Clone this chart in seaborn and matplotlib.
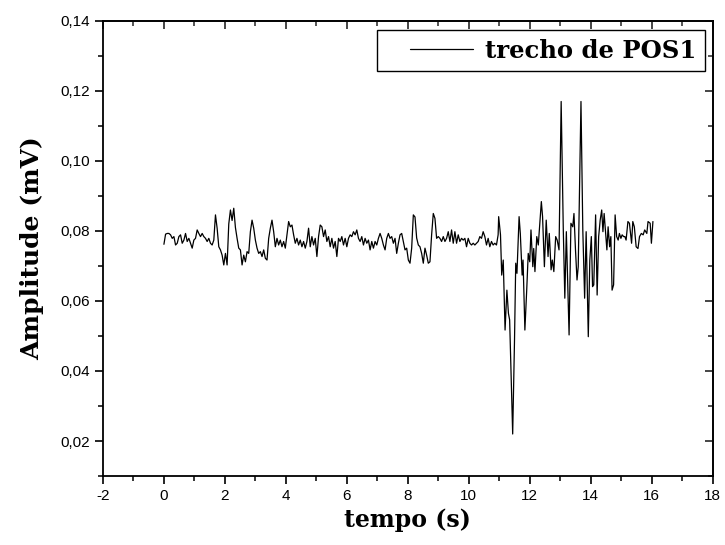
import numpy as np
import pandas as pd
import matplotlib
matplotlib.use("Agg")
import matplotlib.pyplot as plt
from matplotlib.ticker import MultipleLocator, FuncFormatter
from matplotlib.legend_handler import HandlerLine2D
import seaborn as sns

# ---- data ----
sample_interval = 0.05454  # s, quiet part sampled uniformly from t = 0

quiet_amp = [
    0.0762, 0.0791, 0.0793, 0.0793, 0.0789, 0.0779, 0.0784, 0.0760, 0.0765, 0.0784,
    0.0789, 0.0765, 0.0774, 0.0793, 0.0770, 0.0779, 0.0765, 0.0751, 0.0774, 0.0779,
    0.0803, 0.0793, 0.0784, 0.0793, 0.0784, 0.0779, 0.0770, 0.0779, 0.0765, 0.0760,
    0.0774, 0.0846, 0.0808, 0.0755, 0.0746, 0.0731, 0.0703, 0.0736, 0.0703, 0.0820,
    0.0860, 0.0830, 0.0865, 0.0810, 0.0779, 0.0751, 0.0746, 0.0703, 0.0731, 0.0712,
    0.0741, 0.0736, 0.0798,
    0.0831, 0.0808, 0.0774, 0.0751, 0.0736, 0.0741, 0.0727, 0.0746, 0.0722, 0.0717,
    0.0779, 0.0808, 0.0831, 0.0798, 0.0755, 0.0779, 0.0760, 0.0774, 0.0755, 0.0770,
    0.0751, 0.0789, 0.0827, 0.0812, 0.0817, 0.0789, 0.0765, 0.0779, 0.0760, 0.0774,
    0.0755, 0.0770, 0.0751, 0.0770, 0.0808, 0.0755, 0.0784, 0.0760, 0.0779, 0.0727,
    0.0784, 0.0817, 0.0812, 0.0784, 0.0803, 0.0770, 0.0784, 0.0755, 0.0779, 0.0751,
    0.0770, 0.0727, 0.0779, 0.0770, 0.0784, 0.0760, 0.0779,
    0.0755, 0.0779, 0.0789, 0.0784, 0.0798, 0.0789, 0.0803, 0.0779, 0.0770, 0.0784,
    0.0760, 0.0779, 0.0765, 0.0774, 0.0746, 0.0770, 0.0751, 0.0770, 0.0760, 0.0779,
    0.0793, 0.0779, 0.0760, 0.0746, 0.0779, 0.0793, 0.0779, 0.0784, 0.0765, 0.0779,
    0.0736, 0.0765, 0.0789, 0.0793, 0.0770, 0.0746, 0.0751, 0.0717, 0.0708, 0.0751,
    0.0846, 0.0840, 0.0780, 0.0760, 0.0755, 0.0736, 0.0708, 0.0751, 0.0731, 0.0708,
    0.0712, 0.0789, 0.0850, 0.0836, 0.0779, 0.0784, 0.0779,
    0.0770, 0.0784, 0.0770, 0.0779, 0.0798, 0.0770, 0.0803, 0.0765, 0.0798, 0.0765,
    0.0789, 0.0770, 0.0779, 0.0774, 0.0779, 0.0755, 0.0779, 0.0765, 0.0760, 0.0765,
    0.0760, 0.0765, 0.0770, 0.0784, 0.0779, 0.0798, 0.0784, 0.0760, 0.0779, 0.0755,
    0.0770, 0.0760, 0.0765, 0.0760, 0.0789,
]

burst_time = [
    10.98, 11.04, 11.08, 11.13, 11.19, 11.25, 11.30, 11.34, 11.44, 11.50,
    11.54, 11.58, 11.65, 11.69, 11.75, 11.78, 11.84, 11.90, 11.95, 12.00,
    12.04, 12.10, 12.13, 12.17, 12.23, 12.28, 12.33, 12.38, 12.42, 12.48,
    12.54, 12.60, 12.64, 12.70, 12.74, 12.79, 12.85, 12.90, 12.96, 13.03,
    13.10, 13.15, 13.20, 13.29, 13.35, 13.41, 13.45, 13.50, 13.55, 13.59,
    13.68, 13.74, 13.80, 13.85, 13.92, 13.97, 14.02, 14.06, 14.10, 14.16,
    14.21, 14.26, 14.31, 14.36, 14.40, 14.44, 14.48, 14.53, 14.57, 14.62,
    14.66, 14.70, 14.75, 14.80, 14.85, 14.90, 14.94, 14.99, 15.03, 15.08,
    15.12, 15.16, 15.22, 15.27, 15.34, 15.38, 15.43, 15.49, 15.55, 15.60,
    15.66, 15.72, 15.77, 15.84, 15.88, 15.95, 15.99, 16.04,
]
burst_amp = [
    0.0841, 0.0789, 0.0674, 0.0717, 0.0517, 0.0631, 0.0565, 0.0546, 0.0220, 0.0489,
    0.0708, 0.0679, 0.0841, 0.0793, 0.0674, 0.0717, 0.0517, 0.0631, 0.0736, 0.0712,
    0.0803, 0.0698, 0.0750, 0.0684, 0.0784, 0.0760, 0.0822, 0.0884, 0.0841, 0.0698,
    0.0831, 0.0727, 0.0793, 0.0689, 0.0717, 0.0684, 0.0784, 0.0774, 0.0746, 0.1170,
    0.0803, 0.0608, 0.0798, 0.0503, 0.0822, 0.0812, 0.0850, 0.0746, 0.0660, 0.0698,
    0.1170, 0.0803, 0.0608, 0.0798, 0.0498, 0.0717, 0.0784, 0.0641, 0.0646, 0.0846,
    0.0617, 0.0784, 0.0831, 0.0860, 0.0798, 0.0850, 0.0803, 0.0746, 0.0812, 0.0755,
    0.0784, 0.0631, 0.0646, 0.0846, 0.0784, 0.0774, 0.0793, 0.0779, 0.0789, 0.0784,
    0.0784, 0.0774, 0.0827, 0.0822, 0.0765, 0.0827, 0.0812, 0.0755, 0.0750, 0.0784,
    0.0793, 0.0789, 0.0803, 0.0793, 0.0827, 0.0822, 0.0765, 0.0827,
]

series_label = "trecho de POS1"
x_label = "tempo (s)"
y_label = "Amplitude (mV)"
x_ticks = [-2, 0, 2, 4, 6, 8, 10, 12, 14, 16, 18]
y_ticks = [0.02, 0.04, 0.06, 0.08, 0.10, 0.12, 0.14]

quiet_time = np.arange(len(quiet_amp)) * sample_interval
df = pd.DataFrame({
    "t": np.concatenate([quiet_time, burst_time]),
    "amp": np.concatenate([quiet_amp, burst_amp]),
})

# ---- figure ----
sns.set_theme(style="ticks")
plt.rcParams["font.family"] = ["Liberation Sans", "DejaVu Sans"]
plt.rcParams["text.color"] = "black"

fig = plt.figure(figsize=(7.25, 5.45), dpi=100)
ax = fig.add_axes([0.142, 0.1266, 0.983 - 0.142, 0.9615 - 0.1266])

sns.lineplot(data=df, x="t", y="amp", ax=ax, color="black", linewidth=0.9,
             estimator=None, sort=False, label=series_label)

ax.set_xlim(-2, 18)
ax.set_ylim(0.01, 0.14)
ax.set_xticks(x_ticks)
ax.set_yticks(y_ticks)
ax.xaxis.set_minor_locator(MultipleLocator(1))
ax.yaxis.set_minor_locator(MultipleLocator(0.01))
ax.xaxis.set_major_formatter(FuncFormatter(lambda v, p: f"{v:g}"))
ax.yaxis.set_major_formatter(FuncFormatter(lambda v, p: f"{v:.2f}".replace(".", ",")))

for s in ax.spines.values():
    s.set_visible(True)
    s.set_linewidth(1.3)
    s.set_color("black")

ax.tick_params(axis="both", which="major", direction="out", length=6, width=1.2,
               labelsize=11, colors="black", pad=3)
ax.tick_params(axis="both", which="minor", direction="out", length=3.5, width=1.1,
               colors="black")
# mirrored inward ticks on top and right
axt = ax.secondary_xaxis("top")
axt.set_xticks(x_ticks)
axt.xaxis.set_minor_locator(MultipleLocator(1))
axt.tick_params(which="major", direction="in", length=6, width=1.2, labeltop=False)
axt.tick_params(which="minor", direction="in", length=3.5, width=1.1)
axt.set_xticklabels([])
axr = ax.secondary_yaxis("right")
axr.set_yticks(y_ticks)
axr.yaxis.set_minor_locator(MultipleLocator(0.01))
axr.tick_params(which="major", direction="in", length=6, width=1.2, labelright=False)
axr.tick_params(which="minor", direction="in", length=3.5, width=1.1)
axr.set_yticklabels([])

ax.set_xlabel(x_label, fontdict=dict(family=["DejaVu Serif"], weight="bold",
                                     size=17, color="black"), labelpad=4)
ax.set_ylabel(y_label, fontdict=dict(family=["DejaVu Serif"], weight="bold",
                                     size=18, color="black"), labelpad=12)

leg = ax.legend(loc="upper right", bbox_to_anchor=(0.987, 0.980), frameon=True,
                fancybox=False, edgecolor="black", framealpha=1,
                prop=dict(family="DejaVu Serif", weight="bold", size=17.5),
                handlelength=3.6, handletextpad=0.5, borderpad=0.35,
                borderaxespad=0,
                handler_map={plt.Line2D: HandlerLine2D(xpad=1.0)})
leg.get_frame().set_linewidth(1.0)
for txt in leg.get_texts():
    txt.set_color("black")
for line in leg.get_lines():
    line.set_linewidth(0.9)

ax.grid(False)
fig.savefig("out.png", dpi=100, facecolor="white")
